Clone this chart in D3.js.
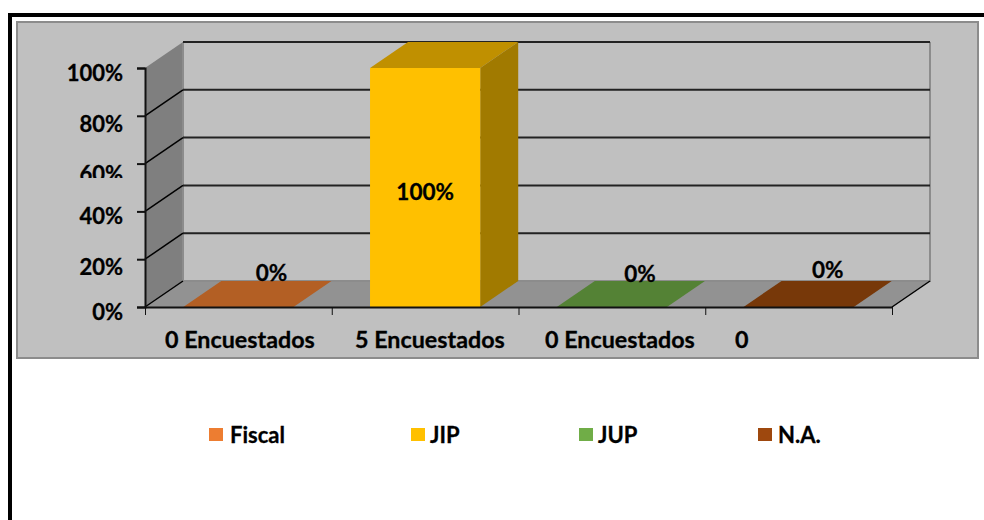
<!DOCTYPE html>
<html>
<head>
<meta charset="utf-8">
<script src="https://cdn.jsdelivr.net/npm/d3@7"></script>
<style>
  html, body { margin: 0; padding: 0; background: #fff; }
  svg { display: block; }
  text { font-family: Lato, "Open Sans", sans-serif; font-weight: 700; fill: #000; stroke: #000; stroke-width: 0.3px; }
</style>
</head>
<body>
<script>
const categories = ['0 Encuestados', '5 Encuestados', '0 Encuestados', '0'];
const seriesNames = ['Fiscal', 'JIP', 'JUP', 'N.A.'];
const seriesValues = [0, 100, 0, 0];
const yTicks = [0, 20, 40, 60, 80, 100];

const legendColors = ['#ed7d31', '#ffc000', '#70ad47', '#9e480e'];
const topColors = ['#b35f24', '#c09000', '#548235', '#773809'];
const sideColors = ['#8e4b1c', '#a17a00', '#43682a', '#5e2c07'];

const w = 984, h = 520;
const left = 145, right = 892, bottom = 307, top100 = 68;
const dx = 38, dy = -26;

const svg = d3.select('body').append('svg')
  .attr('width', w)
  .attr('height', h);

// page frame and chart panel
svg.append('path')
  .attr('d', 'M10,520V15H984')
  .attr('fill', 'none')
  .attr('stroke', '#000')
  .attr('stroke-width', 4);
svg.append('rect')
  .attr('x', 17).attr('y', 22)
  .attr('width', 961).attr('height', 336)
  .attr('fill', '#c0c0c0')
  .attr('stroke', '#8c8c8c')
  .attr('stroke-width', 2);

const yScale = d3.scaleLinear().domain([0, 100]).range([bottom, top100]);
const xScale = d3.scaleBand()
  .domain(d3.range(categories.length))
  .range([left, right])
  .paddingInner(0.41)
  .paddingOuter(0.205);
const xEdges = d3.scaleLinear().domain([0, categories.length]).range([left, right]);

const pts = (a) => a.map((p) => p.join(',')).join(' ');

// walls and floor
svg.append('polygon')
  .attr('points', pts([[left, yScale(0)], [left + dx, yScale(0) + dy], [left + dx, yScale(100) + dy], [left, yScale(100)]]))
  .attr('fill', '#7f7f7f');
svg.append('polygon')
  .attr('points', pts([[left, yScale(0)], [right, yScale(0)], [right + dx, yScale(0) + dy], [left + dx, yScale(0) + dy]]))
  .attr('fill', '#929292');
svg.append('path')
  .attr('d', `M${left + dx},${yScale(100) + dy}V${yScale(0) + dy}H${right + dx}V${yScale(100) + dy}`)
  .attr('fill', 'none')
  .attr('stroke', '#8c8c8c')
  .attr('stroke-width', 2);

// gridlines on back wall and side wall
const grid = svg.append('g');
grid.selectAll('.back')
  .data(yTicks.filter((d) => d > 0))
  .enter()
  .append('line')
  .attr('class', 'back')
  .attr('x1', left + dx)
  .attr('x2', right + dx)
  .attr('y1', (d) => yScale(d) + dy)
  .attr('y2', (d) => yScale(d) + dy)
  .attr('stroke', '#222')
  .attr('stroke-width', 2);
grid.selectAll('.side')
  .data(yTicks.filter((d) => d > 0 && d < 100))
  .enter()
  .append('line')
  .attr('class', 'side')
  .attr('x1', left)
  .attr('x2', left + dx)
  .attr('y1', (d) => yScale(d))
  .attr('y2', (d) => yScale(d) + dy)
  .attr('stroke', '#000')
  .attr('stroke-width', 1.5);

// floor edges
svg.append('path')
  .attr('d', `M${left},${bottom}L${left + dx},${bottom + dy}M${right},${bottom}L${right + dx},${bottom + dy}`)
  .attr('fill', 'none')
  .attr('stroke', '#000')
  .attr('stroke-width', 1.5);

// bars
const bars = svg.selectAll('.bar')
  .data(seriesValues)
  .enter()
  .append('g')
  .attr('class', 'bar');
bars.append('polygon')
  .attr('points', (d, i) => {
    const x0 = xScale(i), x1 = x0 + xScale.bandwidth(), y = yScale(d);
    return pts([[x0, y], [x1, y], [x1 + dx, y + dy], [x0 + dx, y + dy]]);
  })
  .attr('fill', (d, i) => topColors[i]);
bars.filter((d) => d > 0).append('polygon')
  .attr('points', (d) => {
    const x1 = xScale(seriesValues.indexOf(d)) + xScale.bandwidth();
    return pts([[x1, yScale(d)], [x1 + dx, yScale(d) + dy], [x1 + dx, yScale(0) + dy], [x1, yScale(0)]]);
  })
  .attr('fill', (d) => sideColors[seriesValues.indexOf(d)]);
bars.filter((d) => d > 0).append('rect')
  .attr('x', (d) => xScale(seriesValues.indexOf(d)))
  .attr('y', (d) => yScale(d))
  .attr('width', xScale.bandwidth())
  .attr('height', (d) => yScale(0) - yScale(d))
  .attr('fill', (d) => legendColors[seriesValues.indexOf(d)]);

// axes
const yAxis = d3.axisLeft(yScale)
  .tickValues(yTicks)
  .tickSize(8)
  .tickFormat('');
svg.append('g')
  .attr('id', 'y-axis')
  .attr('transform', `translate(${left},0)`)
  .call(yAxis)
  .call((g) => g.selectAll('path, line').attr('stroke', '#111').attr('stroke-width', 2));
const xAxis = d3.axisBottom(xEdges)
  .ticks(categories.length)
  .tickSize(8)
  .tickSizeOuter(0)
  .tickFormat('');
svg.append('g')
  .attr('id', 'x-axis')
  .attr('transform', `translate(0,${bottom})`)
  .call(xAxis)
  .call((g) => {
    g.selectAll('path').attr('stroke', '#111').attr('stroke-width', 2);
    g.selectAll('line').attr('stroke', '#111').attr('stroke-width', 1);
  });

// y labels sit a little off their ticks and two of them get cut by the panel overlay
const yLabelShift = { 0: 13, 20: 16, 40: 13, 60: 18, 80: 16, 100: 13 };
const clip = svg.append('clipPath').attr('id', 'ylabel-clip');
[[60, 118], [200, 75], [290, 40]].forEach((c) => {
  clip.append('rect').attr('x', 40).attr('y', c[0]).attr('width', 100).attr('height', c[1]);
});
svg.append('g')
  .attr('clip-path', 'url(#ylabel-clip)')
  .selectAll('text')
  .data(yTicks)
  .enter()
  .append('text')
  .attr('x', 123)
  .attr('y', (d) => yScale(d) + yLabelShift[d])
  .attr('text-anchor', 'end')
  .attr('font-size', 22)
  .text((d) => d + '%');

// category labels
const catScale = d3.scalePoint().domain(d3.range(categories.length)).range([165, 735]);
svg.selectAll('.cat')
  .data(categories)
  .enter()
  .append('text')
  .attr('class', 'cat')
  .attr('x', (d, i) => catScale(i))
  .attr('y', 348)
  .attr('font-size', 23.3)
  .text((d) => d);

// data labels
const labelShift = [[33, -26], [0, -107], [28, -25], [29, -29]];
svg.selectAll('.val')
  .data(seriesValues)
  .enter()
  .append('text')
  .attr('class', 'val')
  .attr('x', (d, i) => xScale(i) + xScale.bandwidth() / 2 + labelShift[i][0])
  .attr('y', (d, i) => yScale(0) + labelShift[i][1])
  .attr('text-anchor', 'middle')
  .attr('font-size', 22.5)
  .text((d) => d + '%');

// legend
const legendScale = d3.scaleOrdinal().domain(seriesNames).range([209, 411, 579, 758]);
const legendGap = [21, 19, 19, 20];
const legend = svg.selectAll('.legend')
  .data(seriesNames)
  .enter()
  .append('g')
  .attr('class', 'legend')
  .attr('transform', (d) => `translate(${legendScale(d)},428)`);
legend.append('rect')
  .attr('width', 14)
  .attr('height', 13)
  .attr('fill', (d, i) => legendColors[i]);
legend.append('text')
  .attr('x', (d, i) => legendGap[i])
  .attr('y', 15)
  .attr('font-size', 22)
  .text((d) => d);
</script>
</body>
</html>
